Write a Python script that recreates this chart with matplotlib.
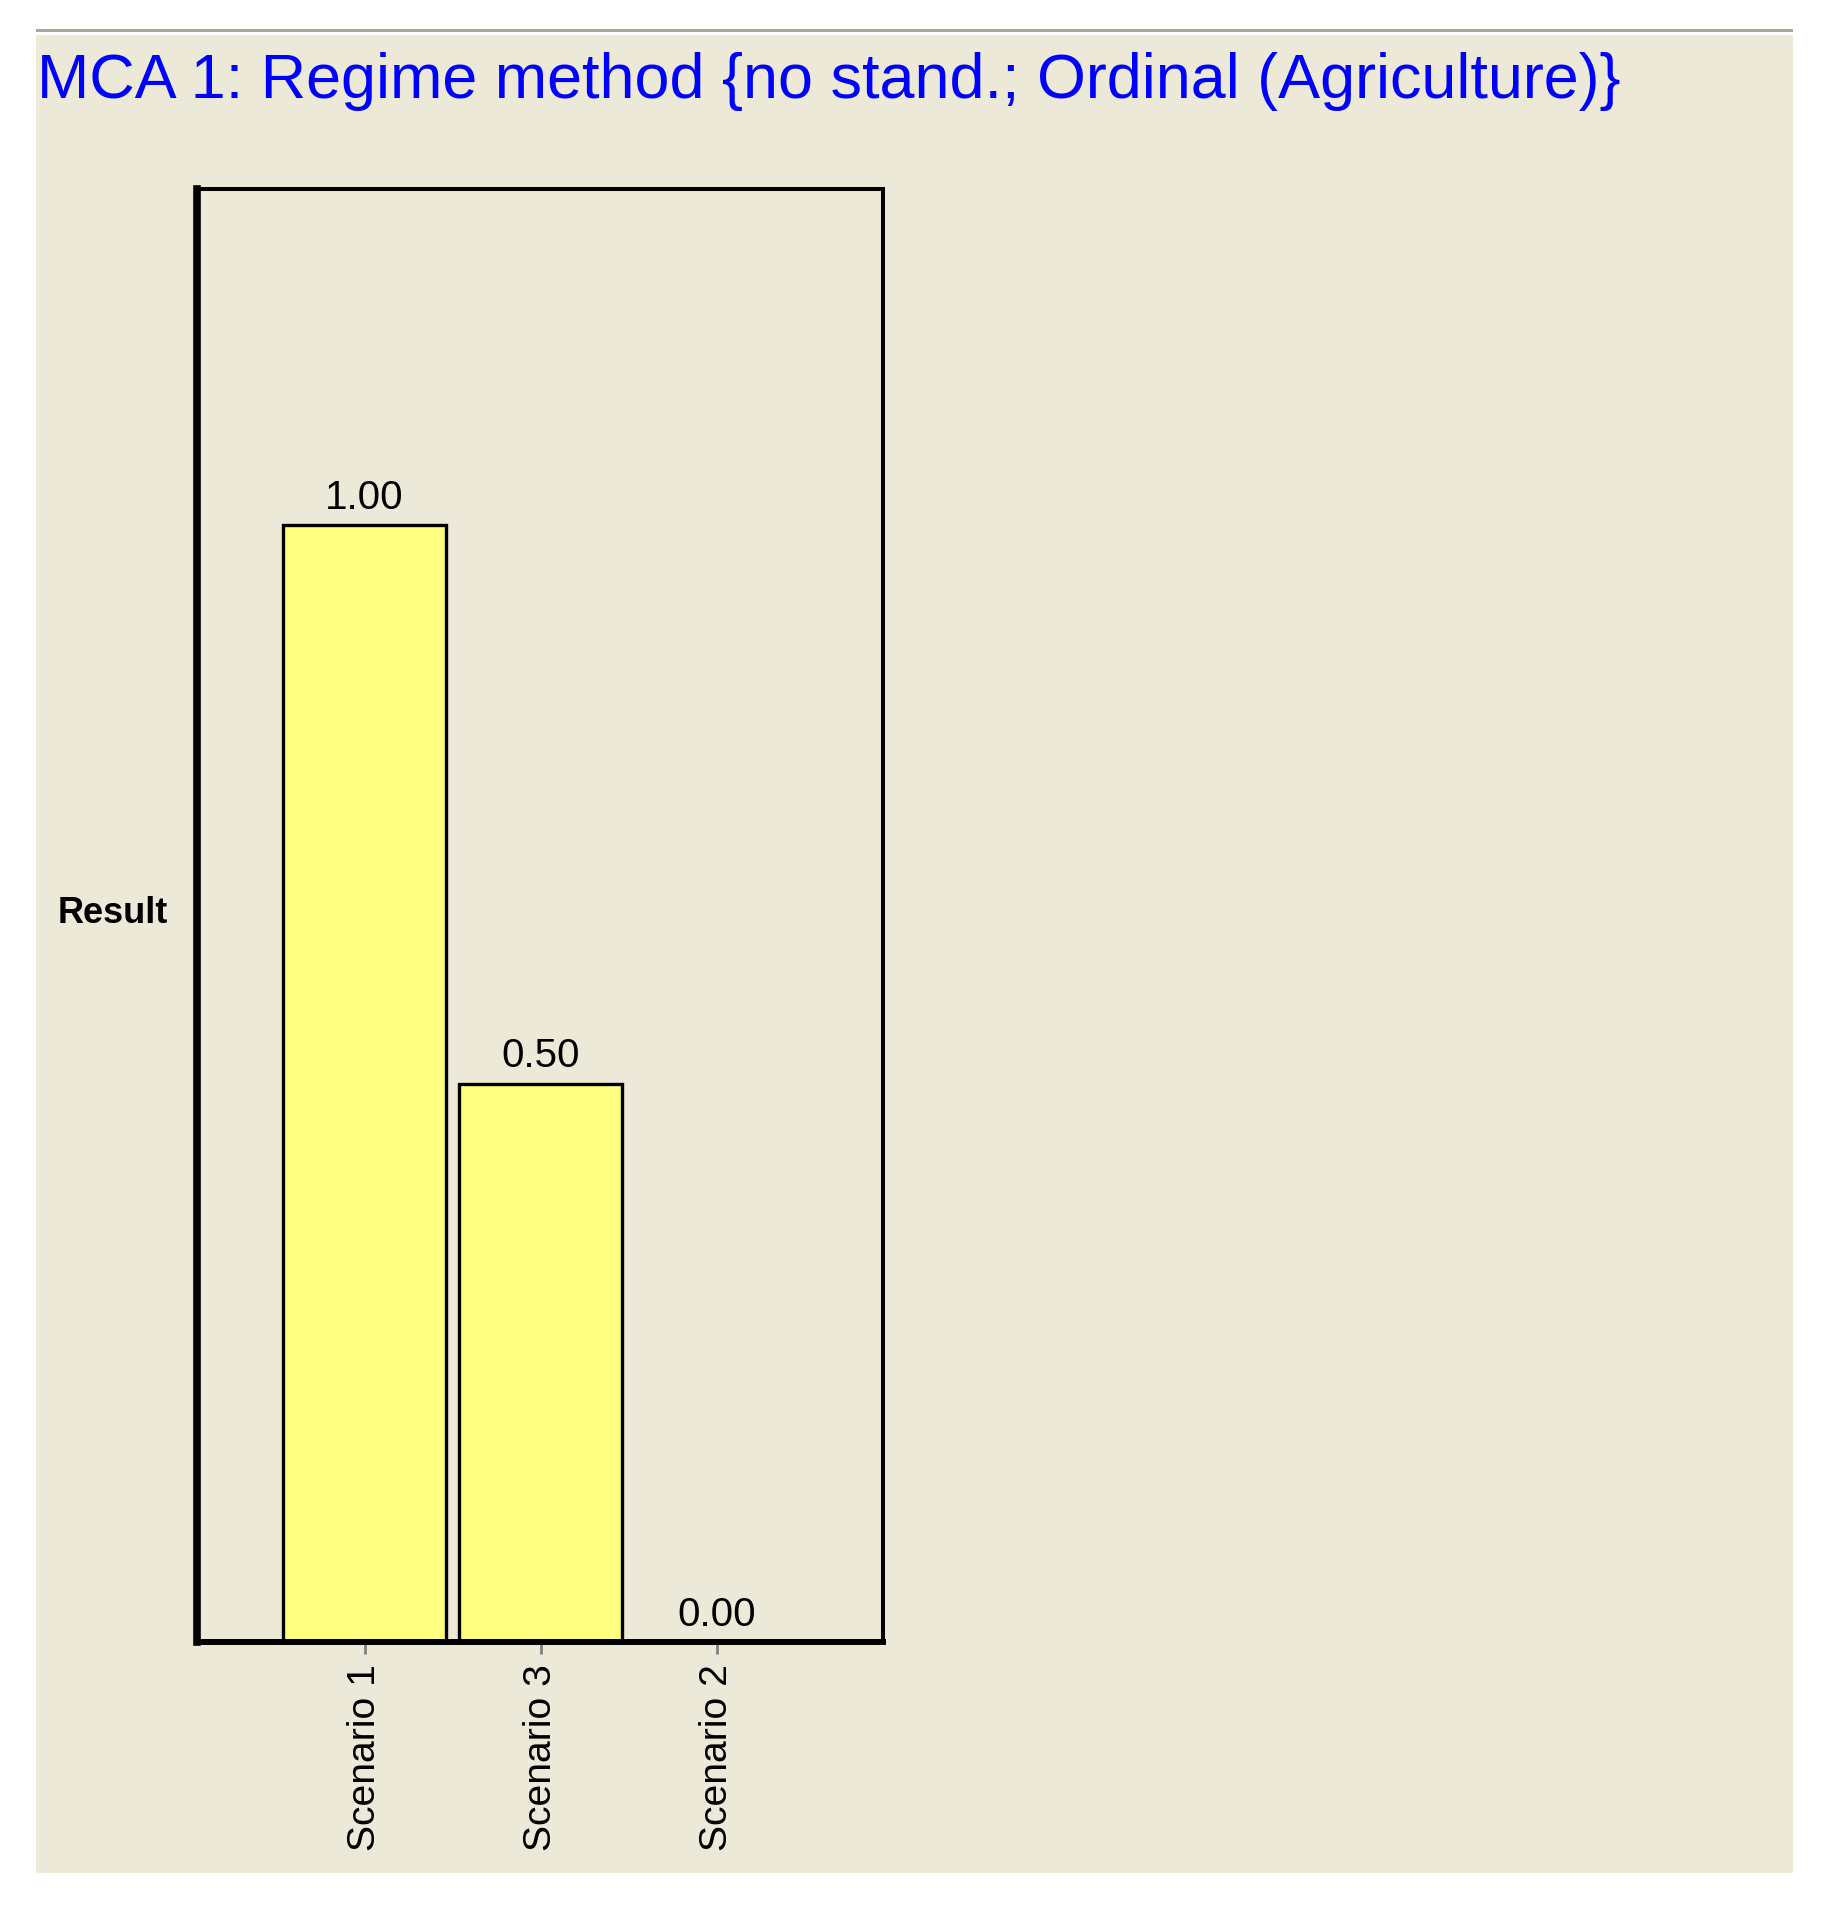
import matplotlib
matplotlib.use("Agg")
import matplotlib.pyplot as plt
from matplotlib.patches import Rectangle

# donnees du graphique
scenarios = ["Scenario 1", "Scenario 3", "Scenario 2"]
resultats = [1.00, 0.50, 0.00]
titre = "MCA 1: Regime method {no stand.; Ordinal (Agriculture)}"

beige = "#ECE9D8"
jaune = "#FFFF80"

plt.rcParams["font.family"] = ["Liberation Sans", "DejaVu Sans"]

fig = plt.figure(figsize=(18.36, 19.11), dpi=100)
fig.patch.set_facecolor("white")

# fond beige de la fenetre + ligne grise en haut
W, H = 1836.0, 1911.0
fig.add_artist(Rectangle((36 / W, 1 - 1873 / H), (1793 - 36) / W, (1873 - 35) / H,
                         transform=fig.transFigure, facecolor=beige, edgecolor="none", zorder=0))
fig.add_artist(Rectangle((36 / W, 1 - 32 / H), (1793 - 36) / W, 3 / H,
                         transform=fig.transFigure, facecolor="#ACA899", edgecolor="none", zorder=0))

fig.text(37 / W, 1 - 98 / H, titre, color="#0000FF", fontsize=45.3, va="baseline", ha="left")

ax = fig.add_axes([197 / W, 1 - 1642 / H, 686 / W, 1453 / H])
ax.set_facecolor(beige)

x = list(range(len(scenarios)))
barres = ax.bar(x, resultats, width=0.93, color=jaune, edgecolor="black", linewidth=2.4, zorder=2)
ax.bar_label(barres, labels=["%.2f" % v for v in resultats], padding=6, fontsize=29, color="black")

ax.set_xlim(-0.952, 2.946)
ax.set_ylim(0, 1.301)

ax.set_xticks(x)
ax.set_xticklabels(scenarios, rotation=90, fontsize=28.2, va="top", ha="center")
ax.tick_params(axis="x", length=8.6, width=2, color="#808080", pad=7)
ax.set_yticks([])

ax.set_ylabel("Result", rotation=0, fontsize=26, fontweight="bold", ha="center", va="center")
ax.yaxis.set_label_coords(-0.1224, 0.5017)

ax.spines["left"].set_linewidth(5.5)
ax.spines["bottom"].set_linewidth(4.3)
ax.spines["top"].set_linewidth(2.9)
ax.spines["right"].set_linewidth(2.9)
for s in ax.spines.values():
    s.set_color("black")

fig.savefig("out.png", dpi=100, facecolor=fig.get_facecolor())
